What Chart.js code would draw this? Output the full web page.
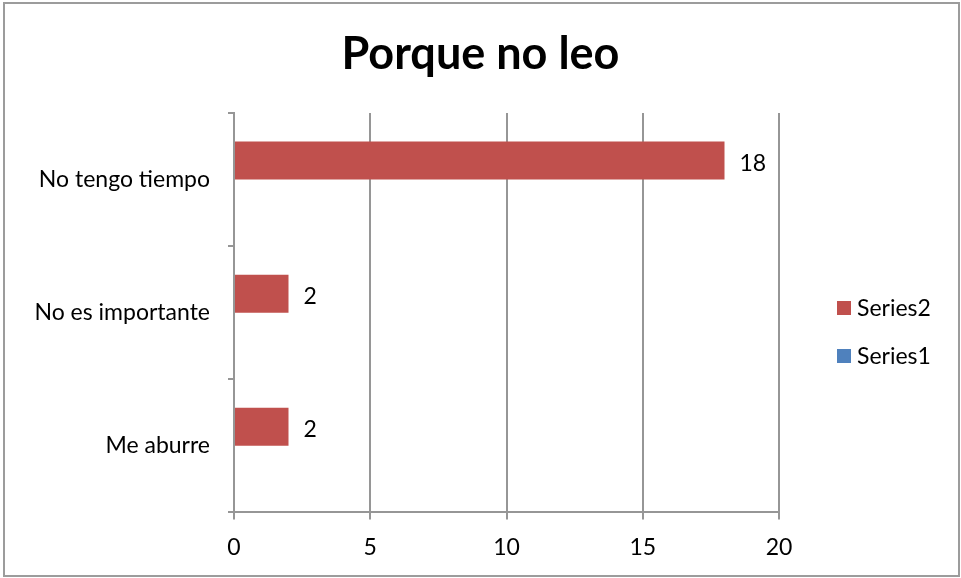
<!DOCTYPE html>
<html>
<head>
<meta charset="utf-8">
<script src="https://cdn.jsdelivr.net/npm/chart.js@4/dist/chart.umd.min.js"></script>
<style>
  html, body { margin: 0; padding: 0; background: #fff; }
  #wrap { width: 961px; height: 578px; position: relative; }
</style>
</head>
<body>
<div id="wrap"><canvas id="c" width="961" height="578"></canvas></div>
<script>
const titleText = 'Porque no leo';
const categories = ['No tengo tiempo', 'No es importante', 'Me aburre'];
const series2Values = [18, 2, 2];
const series1Values = [null, null, null];
const seriesNames = ['Series2', 'Series1'];
const xTicks = [0, 5, 10, 15, 20];

const FONT = 'Lato, "Open Sans", sans-serif';
const GRID = '#969696';

const bgBorder = {
  id: 'bgBorder',
  beforeDraw(chart) {
    const ctx = chart.ctx;
    ctx.save();
    ctx.fillStyle = '#fff';
    ctx.fillRect(0, 0, chart.width, chart.height);
    ctx.strokeStyle = '#9c9c9c';
    ctx.lineWidth = 2;
    ctx.strokeRect(4, 3, 955, 573);
    ctx.restore();
  }
};

const valueLabels = {
  id: 'valueLabels',
  afterDatasetsDraw(chart) {
    const ctx = chart.ctx;
    ctx.save();
    ctx.font = '23px ' + FONT;
    ctx.fillStyle = '#000';
    ctx.textAlign = 'left';
    ctx.textBaseline = 'middle';
    chart.data.datasets.forEach((ds, di) => {
      const meta = chart.getDatasetMeta(di);
      meta.data.forEach((bar, i) => {
        const v = ds.data[i];
        if (v === null || v === undefined) return;
        ctx.fillText(String(v), bar.x + 15, bar.y + 3);
      });
    });
    ctx.restore();
  }
};

const customLegend = {
  id: 'customLegend',
  afterDraw(chart) {
    const ctx = chart.ctx;
    ctx.save();
    ctx.font = '23px ' + FONT;
    ctx.textAlign = 'left';
    ctx.textBaseline = 'middle';
    chart.data.datasets.forEach((ds, i) => {
      const cy = 309 + i * 48;
      ctx.fillStyle = ds.backgroundColor;
      ctx.fillRect(837, cy - 8, 14, 14);
      ctx.fillStyle = '#000';
      ctx.fillText(ds.label, 857, cy);
    });
    ctx.restore();
  }
};

new Chart(document.getElementById('c'), {
  type: 'bar',
  data: {
    labels: categories,
    datasets: [
      { label: seriesNames[0], data: series2Values, backgroundColor: '#C0504D',
        categoryPercentage: 0.571, barPercentage: 1.0 },
      { label: seriesNames[1], data: series1Values, backgroundColor: '#4F81BD',
        categoryPercentage: 0.571, barPercentage: 1.0 }
    ]
  },
  options: {
    indexAxis: 'y',
    responsive: false,
    animation: false,
    layout: { padding: { left: 0, right: 0, top: 0, bottom: 3 } },
    plugins: {
      legend: { display: false },
      tooltip: { enabled: false },
      title: {
        display: true,
        text: titleText,
        color: '#000',
        font: { family: FONT, size: 45, weight: 'bold', lineHeight: 1.2 },
        padding: { top: 27, bottom: 32 }
      }
    },
    scales: {
      x: {
        type: 'linear',
        min: 0, max: 20,
        afterBuildTicks(scale) { scale.ticks = xTicks.map(v => ({ value: v })); },
        ticks: { color: '#000', font: { family: FONT, size: 23 }, padding: 14 },
        grid: { color: GRID, lineWidth: 2, drawTicks: true, tickLength: 7, tickColor: GRID },
        border: { display: true, color: GRID, width: 2 }
      },
      y: {
        afterFit(scale) { scale.width = 234; },
        ticks: { color: '#000', font: { family: FONT, size: 23 }, padding: 18 },
        grid: { offset: true, drawOnChartArea: false, drawTicks: true, tickLength: 6, color: GRID, lineWidth: 2 },
        border: { display: true, color: GRID, width: 2 }
      },
      yRight: {
        type: 'category',
        axis: 'y',
        position: 'right',
        afterFit(scale) { scale.width = 182; },
        ticks: { display: false },
        grid: { display: false },
        border: { display: false }
      }
    }
  },
  plugins: [bgBorder, valueLabels, customLegend]
});
</script>
</body>
</html>
